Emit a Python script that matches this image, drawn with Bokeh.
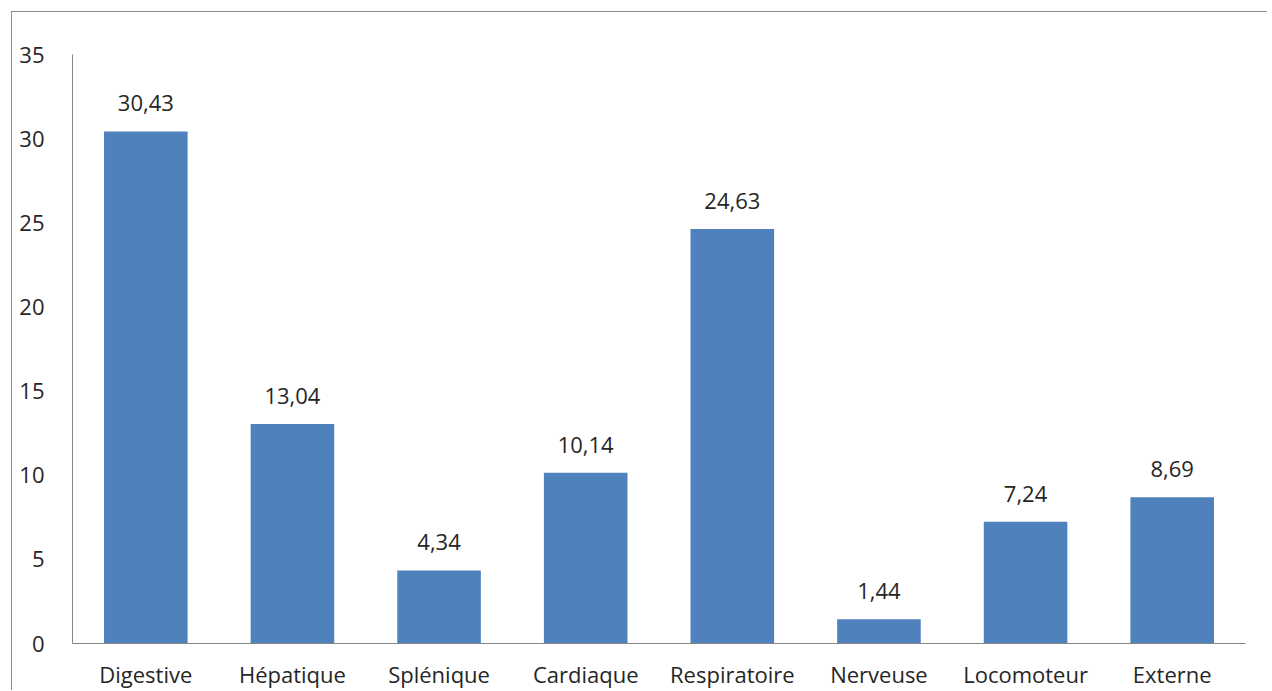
from bokeh.plotting import figure
from bokeh.models import ColumnDataSource, FactorRange, Range1d, FixedTicker, LabelSet
from bokeh.core.properties import value
from bokeh.embed import file_html
from bokeh.resources import INLINE

categories = ["Digestive", "Hépatique", "Splénique", "Cardiaque", "Respiratoire",
              "Nerveuse", "Locomoteur", "Externe"]
values = [30.43, 13.04, 4.34, 10.14, 24.63, 1.44, 7.24, 8.69]
labels = ["30,43", "13,04", "4,34", "10,14", "24,63", "1,44", "7,24", "8,69"]
y_ticks = [0, 5, 10, 15, 20, 25, 30, 35]

FONT = "Open Sans"
SIZE = "22px"
TXT = "#262626"
AX = "#868686"

src = ColumnDataSource(dict(cat=categories, val=values, lab=labels))

p = figure(x_range=FactorRange(*categories, range_padding=0),
           y_range=Range1d(0, 35),
           width=1256, height=679,
           output_backend="svg", toolbar_location=None,
           min_border_left=60, min_border_right=23,
           min_border_top=42, min_border_bottom=48)
p.styles = {"margin-left": "11px", "margin-top": "11px",
            "border-top": "1px solid #8c8c8c", "border-left": "1px solid #8c8c8c"}

p.vbar(x="cat", top="val", width=0.57, source=src, fill_color="#4F81BD", line_color=None)

# value labels above bars
p.add_layout(LabelSet(x="cat", y="val", text="lab", source=src, text_align="center",
                      text_baseline="alphabetic", y_offset=20, text_font=value(FONT),
                      text_font_size=SIZE, text_color=TXT))

p.grid.visible = False
p.outline_line_color = None

p.yaxis.ticker = FixedTicker(ticks=y_ticks)
for ax in (p.xaxis, p.yaxis):
    ax.axis_line_color = AX
    ax.major_tick_line_color = None
    ax.minor_tick_line_color = None
    ax.major_label_text_font = FONT
    ax.major_label_text_font_size = SIZE
    ax.major_label_text_color = TXT
p.yaxis.major_label_standoff = 22
p.xaxis.major_label_standoff = 9

open("out.html", "w").write(file_html(p, INLINE))
